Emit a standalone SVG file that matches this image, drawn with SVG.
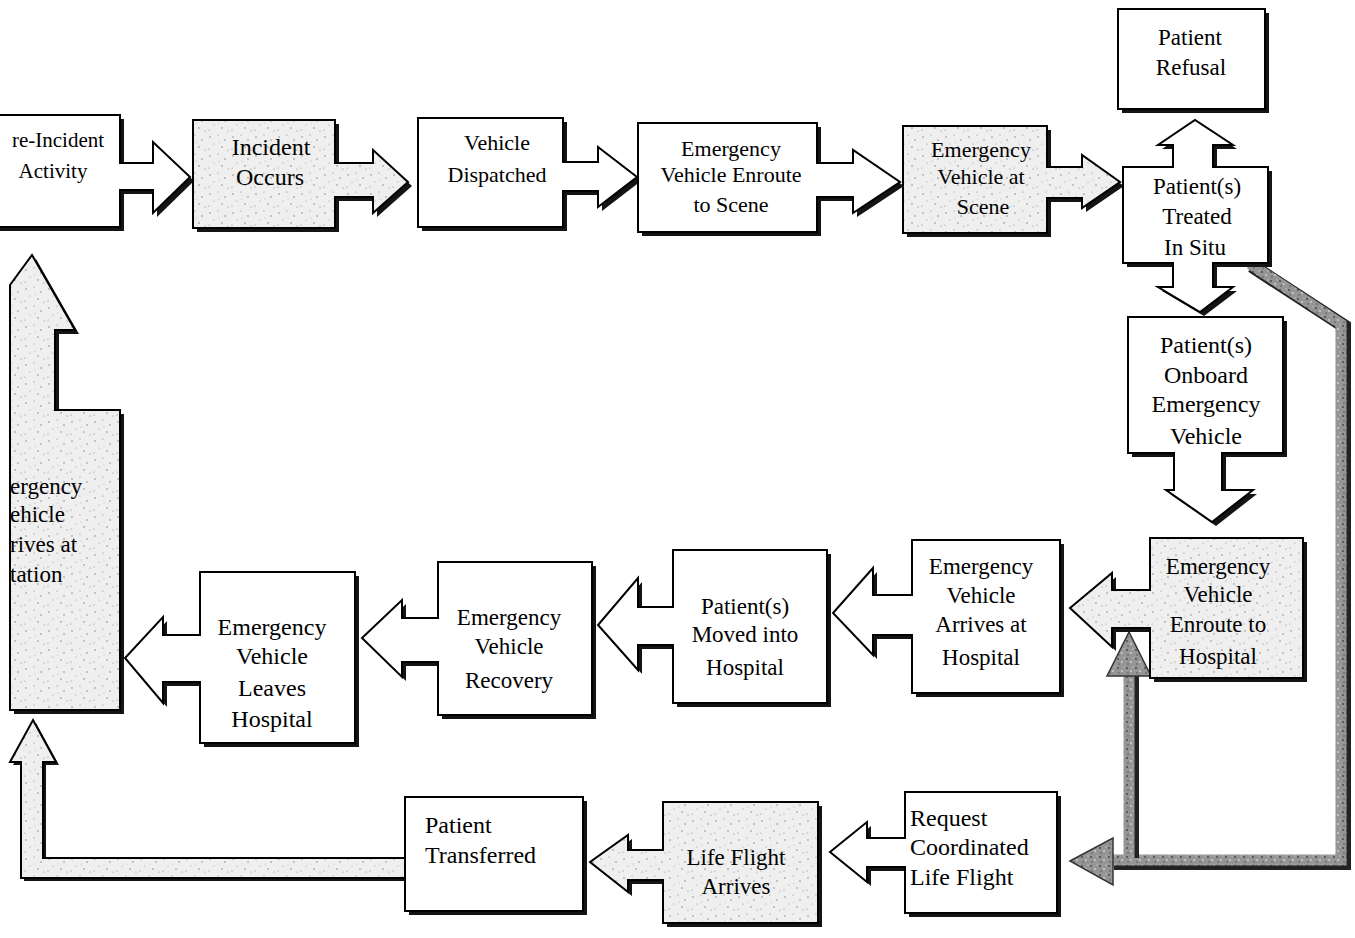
<svg xmlns="http://www.w3.org/2000/svg" xmlns:xlink="http://www.w3.org/1999/xlink" width="1355" height="938" viewBox="0 0 1355 938">
<style>
.sh{fill:#141414;stroke:none}
.bx{fill:#fff;stroke:#000;stroke-width:2;stroke-linejoin:miter}
.st{fill:url(#stip);stroke:#000;stroke-width:2}
.t{font-family:"Liberation Serif","Times New Roman",serif;font-size:23px;fill:#000;text-anchor:middle}
.l{text-anchor:start}
.gs{fill:none;stroke:#222;stroke-width:14;stroke-linejoin:miter}
.gf{fill:none;stroke:url(#gstip);stroke-width:11;stroke-linejoin:miter}
.gh{fill:url(#gstip);stroke:#333;stroke-width:1.5}
</style>
<defs>
<pattern id="stip" width="23" height="19" patternUnits="userSpaceOnUse">
<rect width="23" height="19" fill="#efefef"/>
<circle cx="3" cy="4" r="0.7" fill="#777"/><circle cx="11" cy="2" r="0.6" fill="#888"/>
<circle cx="18" cy="7" r="0.7" fill="#777"/><circle cx="7" cy="11" r="0.6" fill="#999"/>
<circle cx="15" cy="14" r="0.7" fill="#777"/><circle cx="21" cy="17" r="0.6" fill="#888"/>
<circle cx="2" cy="16" r="0.6" fill="#888"/><circle cx="12" cy="9" r="0.5" fill="#aaa"/>
</pattern>
<pattern id="gstip" width="9" height="9" patternUnits="userSpaceOnUse">
<rect width="9" height="9" fill="#959595"/>
<circle cx="2" cy="2" r="1" fill="#4a4a4a"/><circle cx="6" cy="5" r="1" fill="#d0d0d0"/>
<circle cx="3" cy="7" r="0.8" fill="#555"/><circle cx="8" cy="1" r="0.7" fill="#c8c8c8"/>
</pattern>
<polygon id="s1" points="-5,115 120,115 120,163 153,163 153,142 190,177 153,213 153,190 120,190 120,227 -5,227"/>
<polygon id="s2" points="193,120 335,120 335,163 373,163 373,150 408,182 373,213 373,197 335,197 335,228 193,228"/>
<polygon id="s3" points="418,118 563,118 563,162 598,162 598,147 637,177 598,207 598,191 563,191 563,227 418,227"/>
<polygon id="s4" points="638,123 817,123 817,163 853,163 853,150 900,182 853,213 853,197 817,197 817,232 638,232"/>
<polygon id="s5" points="903,126 1047,126 1047,167 1082,167 1082,155 1120,182 1082,208 1082,198 1047,198 1047,233 903,233"/>
<polygon id="s6" points="1123,167 1173,167 1173,145 1158,145 1195,120 1233,145 1213,145 1213,167 1268,167 1268,263 1213,263 1213,287 1233,287 1200,312 1158,287 1173,287 1173,263 1123,263"/>
<polygon id="s7" points="1118,9 1265,9 1265,109 1118,109"/>
<polygon id="s8" points="1128,317 1283,317 1283,453 1222,453 1222,490 1253,490 1212,522 1166,490 1174,490 1174,453 1128,453"/>
<polygon id="s9" points="1150,538 1303,538 1303,678 1150,678 1150,628 1112,628 1112,647 1070,608 1112,573 1112,590 1150,590"/>
<polygon id="s10" points="912,540 1060,540 1060,693 912,693 912,635 873,635 873,655 833,613 873,568 873,595 912,595"/>
<polygon id="s11" points="673,550 827,550 827,703 673,703 673,645 638,645 638,670 598,625 638,578 638,607 673,607"/>
<polygon id="s12" points="438,562 592,562 592,715 438,715 438,662 402,662 402,677 362,638 402,600 402,618 438,618"/>
<polygon id="s13" points="200,572 355,572 355,743 200,743 200,682 163,682 163,703 125,658 163,617 163,635 200,635"/>
<polygon id="s14" points="10,285 32,255 75,330 55,330 55,410 120,410 120,710 10,710"/>
<polygon id="s15" points="905,792 1057,792 1057,913 905,913 905,867 867,867 867,882 830,852 867,822 867,838 905,838"/>
<polygon id="s16" points="663,802 818,802 818,923 663,923 663,880 628,880 628,892 590,862 628,835 628,850 663,850"/>
<polygon id="s17" points="405,797 583,797 583,911 405,911"/>
<polygon id="sb" points="33,720 56,762 43,762 43,858 405,858 405,878 21,878 21,762 10,762"/>
</defs>
<rect width="1355" height="938" fill="#fff"/>

<g id="connectors">
<g id="transfer-to-station">
<use xlink:href="#sb" class="sh" transform="translate(3,3)"/>
<use xlink:href="#sb" class="st"/>
</g>
<g id="treated-to-request">
<path class="gs" d="M1250,264 L1342,324 L1342,861 L1112,861" transform="translate(2,2)"/>
<path class="gf" d="M1250,264 L1341,324 L1341,860 L1112,860"/>
<polygon class="gh" points="1070,861 1113,838 1113,885"/>
</g>
<g id="lifeflight-to-enroute">
<path class="gs" d="M1130,858 L1130,674" transform="translate(2,0)"/>
<path class="gf" d="M1129,860 L1129,674"/>
<polygon class="gh" points="1129,632 1107,676 1151,676"/>
</g>
</g>

<g id="n-pre-incident">
<use xlink:href="#s1" class="sh" transform="translate(4,4)"/><use xlink:href="#s1" class="bx"/>
<text class="t l" x="12" y="147" style="font-size:21px">re-Incident</text>
<text class="t" x="53" y="178" style="font-size:21px">Activity</text>
</g>
<g id="n-incident">
<use xlink:href="#s2" class="sh" transform="translate(4,4)"/><use xlink:href="#s2" class="st"/>
<text class="t" x="271" y="155" style="font-size:24px">Incident</text>
<text class="t" x="270" y="185" style="font-size:24px">Occurs</text>
</g>
<g id="n-dispatched">
<use xlink:href="#s3" class="sh" transform="translate(4,4)"/><use xlink:href="#s3" class="bx"/>
<text class="t" x="497" y="150" style="font-size:22px">Vehicle</text>
<text class="t" x="497" y="182" style="font-size:22px">Dispatched</text>
</g>
<g id="n-enroute-scene">
<use xlink:href="#s4" class="sh" transform="translate(4,4)"/><use xlink:href="#s4" class="bx"/>
<text class="t" x="731" y="156" style="font-size:22px">Emergency</text>
<text class="t" x="731" y="182" style="font-size:22px">Vehicle Enroute</text>
<text class="t" x="731" y="212" style="font-size:22px">to Scene</text>
</g>
<g id="n-at-scene">
<use xlink:href="#s5" class="sh" transform="translate(4,4)"/><use xlink:href="#s5" class="st"/>
<text class="t" x="981" y="157" style="font-size:22px">Emergency</text>
<text class="t" x="981" y="184" style="font-size:22px">Vehicle at</text>
<text class="t" x="983" y="214" style="font-size:22px">Scene</text>
</g>
<g id="n-treated">
<use xlink:href="#s6" class="sh" transform="translate(4,4)"/><use xlink:href="#s6" class="bx"/>
<text class="t" x="1197" y="194">Patient(s)</text>
<text class="t" x="1197" y="224">Treated</text>
<text class="t" x="1195" y="255">In Situ</text>
</g>
<g id="n-refusal">
<use xlink:href="#s7" class="sh" transform="translate(4,4)"/><use xlink:href="#s7" class="bx"/>
<text class="t" x="1190" y="45">Patient</text>
<text class="t" x="1191" y="75">Refusal</text>
</g>
<g id="n-onboard">
<use xlink:href="#s8" class="sh" transform="translate(4,4)"/><use xlink:href="#s8" class="bx"/>
<text class="t" x="1206" y="353" style="font-size:24px">Patient(s)</text>
<text class="t" x="1206" y="383" style="font-size:24px">Onboard</text>
<text class="t" x="1206" y="412" style="font-size:24px">Emergency</text>
<text class="t" x="1206" y="444" style="font-size:24px">Vehicle</text>
</g>
<g id="n-enroute-hospital">
<use xlink:href="#s9" class="sh" transform="translate(4,4)"/><use xlink:href="#s9" class="st"/>
<text class="t" x="1218" y="574">Emergency</text>
<text class="t" x="1218" y="602">Vehicle</text>
<text class="t" x="1218" y="632">Enroute to</text>
<text class="t" x="1218" y="664">Hospital</text>
</g>
<g id="n-arrives-hospital">
<use xlink:href="#s10" class="sh" transform="translate(4,4)"/><use xlink:href="#s10" class="bx"/>
<text class="t" x="981" y="574">Emergency</text>
<text class="t" x="981" y="603">Vehicle</text>
<text class="t" x="981" y="632">Arrives at</text>
<text class="t" x="981" y="665">Hospital</text>
</g>
<g id="n-moved">
<use xlink:href="#s11" class="sh" transform="translate(4,4)"/><use xlink:href="#s11" class="bx"/>
<text class="t" x="745" y="614">Patient(s)</text>
<text class="t" x="745" y="642">Moved into</text>
<text class="t" x="745" y="675">Hospital</text>
</g>
<g id="n-recovery">
<use xlink:href="#s12" class="sh" transform="translate(4,4)"/><use xlink:href="#s12" class="bx"/>
<text class="t" x="509" y="625">Emergency</text>
<text class="t" x="509" y="654">Vehicle</text>
<text class="t" x="509" y="688">Recovery</text>
</g>
<g id="n-leaves">
<use xlink:href="#s13" class="sh" transform="translate(4,4)"/><use xlink:href="#s13" class="bx"/>
<text class="t" x="272" y="635" style="font-size:24px">Emergency</text>
<text class="t" x="272" y="664" style="font-size:24px">Vehicle</text>
<text class="t" x="272" y="696" style="font-size:24px">Leaves</text>
<text class="t" x="272" y="727" style="font-size:24px">Hospital</text>
</g>
<g id="n-station">
<use xlink:href="#s14" class="sh" transform="translate(4,4)"/><use xlink:href="#s14" class="st"/>
<text class="t l" x="10" y="494">ergency</text>
<text class="t l" x="10" y="522">ehicle</text>
<text class="t l" x="10" y="552">rives at</text>
<text class="t l" x="10" y="582">tation</text>
</g>
<g id="n-request">
<use xlink:href="#s15" class="sh" transform="translate(4,4)"/><use xlink:href="#s15" class="bx"/>
<text class="t l" x="910" y="826" style="font-size:24px">Request</text>
<text class="t l" x="910" y="855" style="font-size:24px">Coordinated</text>
<text class="t l" x="910" y="885" style="font-size:24px">Life Flight</text>
</g>
<g id="n-lifeflight">
<use xlink:href="#s16" class="sh" transform="translate(4,4)"/><use xlink:href="#s16" class="st"/>
<text class="t" x="736" y="865">Life Flight</text>
<text class="t" x="736" y="894">Arrives</text>
</g>
<g id="n-transferred">
<use xlink:href="#s17" class="sh" transform="translate(4,4)"/><use xlink:href="#s17" class="bx"/>
<text class="t l" x="425" y="833" style="font-size:24px">Patient</text>
<text class="t l" x="425" y="863" style="font-size:24px">Transferred</text>
</g>
</svg>
